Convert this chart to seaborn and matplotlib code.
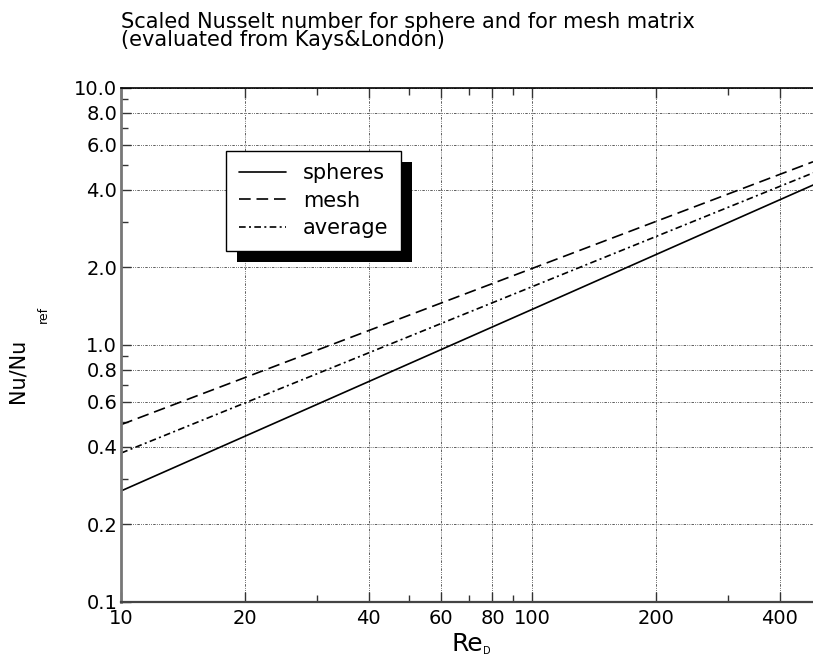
import numpy as np
import pandas as pd
import matplotlib
matplotlib.use('Agg')
import matplotlib.pyplot as plt
import seaborn as sns
from matplotlib.patches import Rectangle
from matplotlib.ticker import FixedLocator, FixedFormatter, NullFormatter

# values (log-log straight lines)
re_d = [10, 100, 482]
spheres = [0.270, 1.373, 4.18]
mesh = [0.489, 1.981, 5.15]
average = [0.379, 1.683, 4.66]

series_names = ['spheres', 'mesh', 'average']
x_major = [10, 20, 40, 60, 80, 100, 200, 400]
x_minor = [30, 50, 70, 90, 300]
y_major = [0.1, 0.2, 0.4, 0.6, 0.8, 1.0, 2.0, 4.0, 6.0, 8.0, 10.0]
y_minor = [0.3, 0.5, 0.7, 0.9, 3, 5, 7, 9]

df = pd.DataFrame({
    'Re': re_d * 3,
    'Nu': spheres + mesh + average,
    'kind': [n for n in series_names for _ in re_d],
})

sns.set_style('ticks')
plt.rcParams['font.family'] = ['DejaVu Sans']
plt.rcParams['text.color'] = 'black'
plt.rcParams['xtick.labelcolor'] = 'black'
plt.rcParams['ytick.labelcolor'] = 'black'

fig = plt.figure(figsize=(8.13, 6.62), dpi=100)
ax = fig.add_axes([0.1492, 0.0911, 0.8508, 0.7764])

dashes = {'spheres': None, 'mesh': (7, 3.5), 'average': (4, 2, 1.2, 2)}
for name in series_names:
    sub = df[df['kind'] == name]
    sns.lineplot(data=sub, x='Re', y='Nu', ax=ax, color='black', lw=1.2, label=name)
    if dashes[name] is not None:
        ax.get_lines()[-1].set_dashes(dashes[name])

ax.set_xscale('log')
ax.set_yscale('log')
ax.set_xlim(10, 482)
ax.set_ylim(0.1, 10)

ax.xaxis.set_major_locator(FixedLocator(x_major))
ax.xaxis.set_major_formatter(FixedFormatter([str(v) for v in x_major]))
ax.xaxis.set_minor_locator(FixedLocator(x_minor))
ax.xaxis.set_minor_formatter(NullFormatter())
ax.yaxis.set_major_locator(FixedLocator(y_major))
ax.yaxis.set_major_formatter(FixedFormatter(['%.1f' % v for v in y_major]))
ax.yaxis.set_minor_locator(FixedLocator(y_minor))
ax.yaxis.set_minor_formatter(NullFormatter())

ax.tick_params(which='both', direction='in', top=True, right=False, labelsize=14,
               color='#333333', labelcolor='black')
ax.tick_params(which='major', length=7, width=1)
ax.tick_params(which='minor', length=5, width=1)
ax.tick_params(axis='y', pad=3)
ax.tick_params(axis='x', pad=5)

ax.grid(True, which='major', color='#444444', lw=0.6, linestyle=(0, (3, 1.5, 1, 1.5, 1, 1.5)))

ax.spines['left'].set_color('#777777')
ax.spines['left'].set_linewidth(2)
ax.spines['bottom'].set_color('#444444')
ax.spines['bottom'].set_linewidth(1.6)
ax.spines['top'].set_color('black')
ax.spines['top'].set_linewidth(1.2)
ax.spines['right'].set_visible(False)

ax.set_xlabel('')
ax.set_ylabel('')
fig.text(0.5745, 0.0166, 'Re', fontsize=18, ha='center', va='baseline')
fig.text(0.5935, 0.0120, 'D', fontsize=7, ha='left', va='baseline')

# y label
fig.text(0.022, 0.44, 'Nu/Nu', fontsize=15, rotation=90, ha='center', va='center')
fig.text(0.053, 0.525, 'ref', fontsize=9, rotation=90, ha='center', va='center')

# title
fig.text(0.149, 0.982, 'Scaled Nusselt number for sphere and for mesh matrix\n(evaluated from Kays&London)',
         fontsize=15, ha='left', va='top', linespacing=0.85)

leg = ax.legend(loc='upper left', bbox_to_anchor=(0.278, 0.772), bbox_transform=fig.transFigure,
                fontsize=15, frameon=True, fancybox=False, borderpad=0.6, borderaxespad=0,
                handlelength=2.3, handletextpad=0.8, labelspacing=0.35)
leg.get_frame().set_edgecolor('black')
leg.get_frame().set_linewidth(1)
leg.get_frame().set_alpha(1)
for t in leg.get_texts():
    t.set_color('black')

fig.canvas.draw()
bb = leg.get_window_extent()
inv = fig.transFigure.inverted()
(x0, y0), (x1, y1) = inv.transform([[bb.x0 + 11, bb.y0 - 11], [bb.x1 + 11, bb.y1 - 11]])
fig.add_artist(Rectangle((x0, y0), x1 - x0, y1 - y0, transform=fig.transFigure,
                         facecolor='black', edgecolor='none', zorder=5))
leg.remove()
fig.add_artist(leg)
leg.set_zorder(6)

fig.savefig('out.png', dpi=100)
